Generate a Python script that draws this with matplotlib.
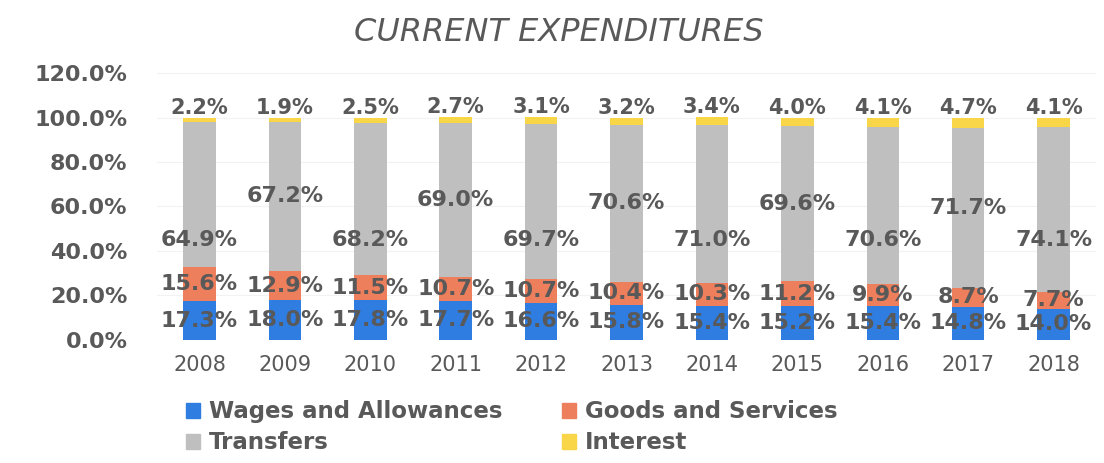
import matplotlib.pyplot as plt
from matplotlib.patches import Patch

# current expenditure shares by year (%)
years = ['2008', '2009', '2010', '2011', '2012', '2013',
         '2014', '2015', '2016', '2017', '2018']
wages = [17.3, 18.0, 17.8, 17.7, 16.6, 15.8, 15.4, 15.2, 15.4, 14.8, 14.0]
goods = [15.6, 12.9, 11.5, 10.7, 10.7, 10.4, 10.3, 11.2, 9.9, 8.7, 7.7]
transfers = [64.9, 67.2, 68.2, 69.0, 69.7, 70.6, 71.0, 69.6, 70.6, 71.7, 74.1]
interest = [2.2, 1.9, 2.5, 2.7, 3.1, 3.2, 3.4, 4.0, 4.1, 4.7, 4.1]

series_names = ['Wages and Allowances', 'Goods and Services', 'Transfers', 'Interest']
colors = ['#2f7de0', '#ee7f5c', '#bfbfbf', '#f9d647']
txt = '#595959'

fig = plt.figure(figsize=(11.04, 4.63), dpi=100)
ax = fig.add_axes([0.142, 0.266, 0.851, 0.576])

x = list(range(len(years)))
w = 0.38
bottom = [0.0] * len(years)
for vals, c in zip([wages, goods, transfers, interest], colors):
    ax.bar(x, vals, w, bottom=bottom, color=c, zorder=2)
    bottom = [b + v for b, v in zip(bottom, vals)]

lab = dict(ha='center', va='center', fontsize=16, fontweight='bold', color=txt, zorder=3)
for i in x:
    ax.text(i, wages[i] / 2, f'{wages[i]:.1f}%', **lab)
    ax.text(i, wages[i] + goods[i] / 2, f'{goods[i]:.1f}%', **lab)
    # transfers labels alternate between mid-bar and a lower spot
    base = wages[i] + goods[i]
    ty = base + transfers[i] / 2 if i % 2 else 45
    ax.text(i, ty, f'{transfers[i]:.1f}%', **lab)
    top = base + transfers[i] + interest[i]
    ax.annotate(f'{interest[i]:.1f}%', (i, top), xytext=(0, 0), textcoords='offset points',
                ha='center', va='bottom', fontsize=15, fontweight='bold', color=txt)

ax.set_xlim(-0.5, len(years) - 0.5)
ax.set_ylim(0, 120)
ax.set_yticks(range(0, 121, 20))
ax.set_yticklabels([f'{v:.1f}%' for v in range(0, 121, 20)],
                   fontsize=16, fontweight='bold', color=txt)
ax.set_xticks(x)
ax.set_xticklabels(years, fontsize=15, color=txt)
ax.tick_params(axis='y', length=0, pad=21)
ax.tick_params(axis='x', length=0, pad=11)
ax.grid(axis='y', color='#f2f2f2', lw=0.8, zorder=0)
for s in ax.spines.values():
    s.set_visible(False)

fig.text(0.506, 0.93, 'CURRENT EXPENDITURES', ha='center', va='center',
         fontsize=23, style='italic', color=txt)

# legend fills column by column, so order the handles for two rows
handles = [Patch(color=c, label=n) for c, n in zip(colors, series_names)]
handles = [handles[0], handles[2], handles[1], handles[3]]
fig.legend(handles=handles, ncol=2, loc='upper left', bbox_to_anchor=(0.158, 0.16),
           frameon=False, prop={'weight': 'bold', 'size': 16.5},
           handlelength=0.6, handleheight=0.6, handletextpad=0.4,
           columnspacing=2.6, labelspacing=0.35, borderpad=0, labelcolor=txt)

fig.savefig('out.png', dpi=100, facecolor='white')
